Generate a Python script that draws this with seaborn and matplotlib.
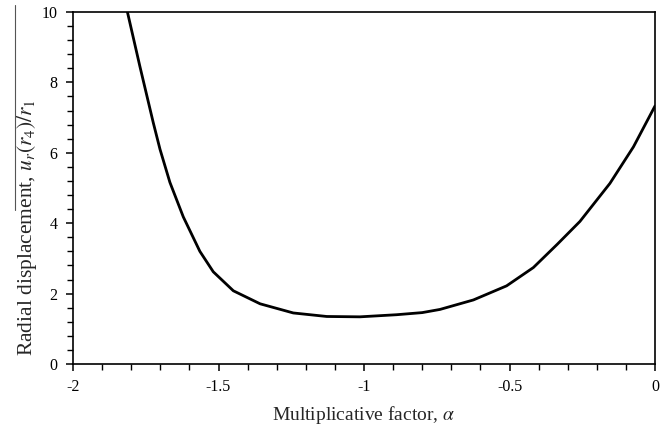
import matplotlib
matplotlib.use("Agg")
import matplotlib.pyplot as plt
from matplotlib.lines import Line2D
from matplotlib.ticker import MultipleLocator
import seaborn as sns
import pandas as pd

alpha = [-1.813, -1.770, -1.724, -1.701, -1.667, -1.621, -1.564, -1.518, -1.449,
         -1.357, -1.243, -1.128, -1.014, -0.888, -0.80, -0.739, -0.624, -0.510,
         -0.418, -0.336, -0.258, -0.155, -0.074, 0.0]
displacement = [10.0, 8.45, 6.85, 6.10, 5.16, 4.18, 3.20, 2.62, 2.08,
                1.71, 1.45, 1.35, 1.34, 1.40, 1.46, 1.55, 1.82, 2.22,
                2.74, 3.40, 4.05, 5.13, 6.17, 7.33]

xticks = [-2, -1.5, -1, -0.5, 0]
xticklabels = ["-2", "-1.5", "-1", "-0.5", "0"]
yticks = [0, 2, 4, 6, 8, 10]

df = pd.DataFrame({"alpha": alpha, "u": displacement})

sns.set_style("ticks")
plt.rcParams["font.family"] = ["Liberation Serif", "DejaVu Serif"]
plt.rcParams["mathtext.fontset"] = "stix"

fig = plt.figure(figsize=(6.69, 4.32), dpi=100)
ax = fig.add_axes([73 / 669, 1 - 364 / 432, (655 - 73) / 669, (364 - 12) / 432])

sns.lineplot(data=df, x="alpha", y="u", ax=ax, color="black", linewidth=2.0)
for ln in ax.lines:
    ln.set_solid_joinstyle("round")
    ln.set_solid_capstyle("round")

ax.set_xlim(-2, 0)
ax.set_ylim(0, 10)
ax.set_xticks(xticks)
ax.set_xticklabels(xticklabels)
ax.set_yticks(yticks)
ax.xaxis.set_minor_locator(MultipleLocator(0.1))
ax.yaxis.set_minor_locator(MultipleLocator(0.4))

for side in ["left", "bottom", "top", "right"]:
    ax.spines[side].set_visible(True)
    ax.spines[side].set_color("black")
    ax.spines[side].set_linewidth(1.2)

ax.tick_params(axis="both", which="major", direction="out", length=5, width=1.1,
               labelsize=11.5, colors="black", pad=6)
ax.tick_params(axis="both", which="minor", direction="out", length=4, width=1.0,
               colors="black")
ax.tick_params(axis="x", which="major", pad=6)

ax.set_xlabel(r"Multiplicative factor, $\alpha$", fontsize=14, labelpad=6)
ax.set_ylabel(r"Radial displacement, $u_r(r_4)/r_1$", fontsize=15.5)
ax.yaxis.set_label_coords(-0.058, 0.389)

fig.add_artist(Line2D([15 / 669, 15 / 669], [1 - 5 / 432, 1 - 210 / 432],
                      transform=fig.transFigure, color="#555555", linewidth=0.8))

fig.savefig("out.png", dpi=100)
